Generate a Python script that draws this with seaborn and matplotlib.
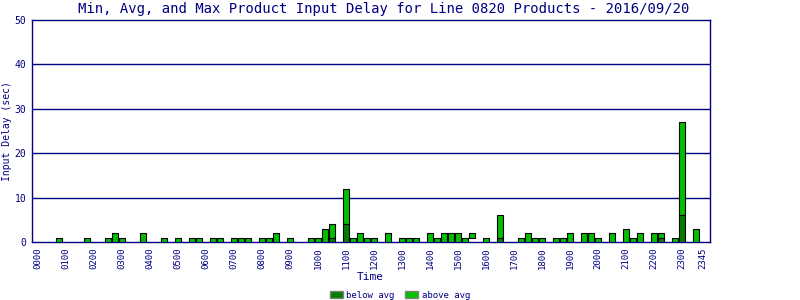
import matplotlib
matplotlib.use("Agg")
import matplotlib.pyplot as plt
from matplotlib.patches import Patch
import seaborn as sns
import pandas as pd
import numpy as np

# ---- data (15-minute slots, index 0 = 00:00) ----
slots = [3, 7, 10, 11, 12, 15, 18, 20, 22, 23, 25, 26, 28, 29, 30, 32, 33, 34, 36,
         39, 40, 41, 42, 44, 45, 46, 47, 48, 50, 52, 53, 54, 56, 57, 58, 59, 60, 61,
         62, 64, 66, 69, 70, 71, 72, 74, 75, 76, 78, 79, 80, 82, 84, 85, 86, 88, 89,
         91, 92, 94]
min_delay = [0, 0, 0, 0, 0, 0, 0, 0, 0, 0, 0, 0, 0, 0, 0, 0, 0, 0, 0,
             0, 0, 0, 0, 0, 0, 0, 0, 0, 0, 0, 0, 0, 0, 0, 0, 0, 0, 0,
             1, 0, 0, 0, 0, 0, 0, 0, 0, 0, 0, 0, 0, 0, 0, 0, 0, 0, 0,
             0, 0, 0]
avg_delay = [0, 0, 0, 0, 0, 0, 0, 0, 0, 0, 0, 0, 0, 0, 0, 0, 0, 0, 0,
             0, 0, 0, 1, 4, 0, 0, 0, 0, 0, 0, 0, 0, 0, 0, 0, 0, 0, 0,
             1, 0, 1, 0, 0, 0, 0, 0, 0, 0, 0, 0, 0, 0, 0, 0, 0, 0, 1,
             0, 6, 0]
max_delay = [1, 1, 1, 2, 1, 2, 1, 1, 1, 1, 1, 1, 1, 1, 1, 1, 1, 2, 1,
             1, 1, 3, 4, 12, 1, 2, 1, 1, 2, 1, 1, 1, 2, 1, 2, 2, 2, 1,
             2, 1, 6, 1, 2, 1, 1, 1, 1, 2, 2, 2, 1, 2, 3, 1, 2, 2, 2,
             1, 27, 3]
tick_labels = ["0000", "0100", "0200", "0300", "0400", "0500", "0600", "0700",
               "0800", "0900", "1000", "1100", "1200", "1300", "1400", "1500",
               "1600", "1700", "1800", "1900", "2000", "2100", "2200", "2300", "2345"]
tick_slots = [0, 4, 8, 12, 16, 20, 24, 28, 32, 36, 40, 44, 48, 52, 56, 60, 64,
              68, 72, 76, 80, 84, 88, 92, 95]

df = pd.DataFrame({"slot": slots, "min": min_delay, "avg": avg_delay, "max": max_delay})
df["below"] = df["avg"] - df["min"]
df["above"] = df["max"] - df["avg"]

NAVY = "#000080"
DARK = "#008000"
LIGHT = "#00C000"
BAR_W = 0.76  # in slot units

sns.set_theme(style="white")
plt.rcParams["font.family"] = ["DejaVu Sans Mono", "DejaVu Sans"]

fig = plt.figure(figsize=(8, 3), dpi=100)
ax = fig.add_axes([32 / 800, 1 - 242 / 300, (710 - 32) / 800, (242 - 20) / 300])

below = df[df["below"] > 0].sort_values("slot")
above = df[df["above"] > 0].sort_values("slot")


def native_step(s):
    u = np.unique(s)
    return np.min(np.diff(u)) if len(u) > 1 else 1


sns.barplot(data=above, x="slot", y="above", native_scale=True,
            width=BAR_W / native_step(above["slot"]),
            color=LIGHT, saturation=1, edgecolor="black", linewidth=0.8,
            bottom=above["avg"].to_numpy(), ax=ax, zorder=3)
sns.barplot(data=below, x="slot", y="below", native_scale=True,
            width=BAR_W / native_step(below["slot"]),
            color=DARK, saturation=1, edgecolor="black", linewidth=0.8,
            bottom=below["min"].to_numpy(), ax=ax, zorder=3)

ax.set_xlim(-0.86, 96)
ax.set_ylim(0, 50)
ax.set_yticks([0, 10, 20, 30, 40, 50])
ax.set_yticklabels(["0", "10", "20", "30", "40", "50"], fontsize=7, color=NAVY)
ax.set_xticks(tick_slots)
ax.set_xticklabels(tick_labels, rotation=90, fontsize=6.5, color=NAVY)
ax.tick_params(axis="both", length=0, pad=4)
for y in [10, 20, 30, 40]:
    ax.axhline(y, color=NAVY, lw=1, zorder=1)
for s in ax.spines.values():
    s.set_color(NAVY)
    s.set_linewidth(1)
ax.grid(False)
ax.set_xlabel("Time", fontsize=8, color=NAVY)
ax.xaxis.set_label_coords((370 - 32) / 678, -(277 - 242) / 222)
ax.set_ylabel("Input Delay (sec)", fontsize=7, color=NAVY)
ax.yaxis.set_label_coords(-(32 - 7) / 678, 0.5)
ax.yaxis.label.set_va("center")
ax.xaxis.label.set_va("center")

fig.text(384 / 800, 1 - 9 / 300, "Min, Avg, and Max Product Input Delay for Line 0820 Products - 2016/09/20",
         ha="center", va="center", fontsize=10, color=NAVY)

handles = [Patch(facecolor=DARK, edgecolor="gray", label="below avg"),
           Patch(facecolor=LIGHT, edgecolor="gray", label="above avg")]
fig.legend(handles=handles, loc="center", bbox_to_anchor=(0.5, 1 - 295 / 300), ncol=2,
           frameon=False, fontsize=6.5, handlelength=1.4, handleheight=0.9,
           handletextpad=0.4, columnspacing=1.2, labelcolor=NAVY)

fig.savefig("out.png", dpi=100)
